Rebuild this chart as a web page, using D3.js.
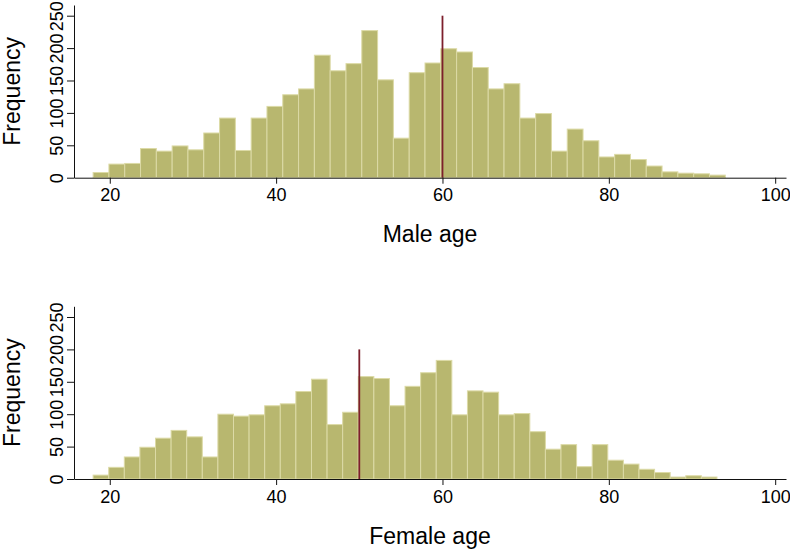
<!DOCTYPE html>
<html>
<head>
<meta charset="utf-8">
<script src="https://cdn.jsdelivr.net/npm/d3@7/dist/d3.min.js"></script>
<style>
  html, body { margin: 0; padding: 0; background: #ffffff; }
  svg { display: block; font-family: "Liberation Sans", Helvetica, Arial, sans-serif; }
</style>
</head>
<body>
<svg id="chart" width="790" height="551"></svg>
<script>
// ---- data ----
const maleCounts = [8, 21, 22, 45, 41, 49, 43, 69, 92, 42,
                    92, 110, 128, 137, 189, 165, 176, 227, 151, 61,
                    162, 177, 199, 194, 170, 137, 145, 92, 99, 41,
                    75, 57, 32, 36, 28, 18, 9, 7, 6, 4];
const maleRange = [18, 94];
const maleRef = 60;
const maleRefTop = 250;

const femaleCounts = [6, 18, 34, 49, 63, 75, 65, 34, 100, 97,
                      99, 113, 116, 135, 154, 84, 103, 158, 155, 113,
                      143, 164, 183, 99, 136, 134, 99, 101, 73, 46,
                      53, 19, 53, 29, 23, 15, 10, 3, 5, 3];
const femaleRange = [18, 93];
const femaleRef = 50;
const femaleRefTop = 200;

const xTicks = [20, 40, 60, 80, 100];
const yTicks = [0, 50, 100, 150, 200, 250];
const panelTitles = ["Male age", "Female age"];
const yTitle = "Frequency";

// ---- style / layout ----
const barFill = "#b8b76f";
const barStroke = "#dcdaa6";
const refColor = "#7d1f2c";
const xDomain = [15.7, 101.3];
const yMax = 266.5;
const left = 74, right = 786;
const panelTops = [5, 306.3];
const panelHeight = 172.7;

const svg = d3.select("#chart");
const x = d3.scaleLinear().domain(xDomain).range([left, right]);

const panels = [
  { counts: maleCounts, range: maleRange, ref: maleRef, refTop: maleRefTop, title: panelTitles[0] },
  { counts: femaleCounts, range: femaleRange, ref: femaleRef, refTop: femaleRefTop, title: panelTitles[1] }
];

panels.forEach((p, pi) => {
  const top = panelTops[pi];
  const bottom = top + panelHeight;
  const y = d3.scaleLinear().domain([0, yMax]).range([bottom, top]);
  const g = svg.append("g");
  const n = p.counts.length;
  const w = (p.range[1] - p.range[0]) / n;
  const bins = p.counts.map((c, i) => ({ x0: p.range[0] + i * w, x1: p.range[0] + (i + 1) * w, c }));

  g.selectAll("rect.bar").data(bins).enter().append("rect")
    .attr("class", "bar")
    .attr("x", d => x(d.x0))
    .attr("width", d => x(d.x1) - x(d.x0))
    .attr("y", d => y(d.c))
    .attr("height", d => y(0) - y(d.c))
    .attr("fill", barFill)
    .attr("stroke", barStroke)
    .attr("stroke-width", 1);

  g.append("line")
    .attr("x1", x(p.ref)).attr("x2", x(p.ref))
    .attr("y1", y(0)).attr("y2", y(p.refTop))
    .attr("stroke", refColor).attr("stroke-width", 1.8);

  const xAxis = g.append("g").attr("transform", `translate(0,${bottom})`)
    .call(d3.axisBottom(x).tickValues(xTicks).tickSize(6).tickSizeOuter(0).tickPadding(5));
  xAxis.selectAll("text").attr("font-size", 18).attr("fill", "#000")
    .attr("font-family", "Liberation Sans, Helvetica, Arial, sans-serif");
  xAxis.selectAll("line, path").attr("stroke", "#111");

  const yAxis = g.append("g").attr("transform", `translate(${left},0)`)
    .call(d3.axisLeft(y).tickValues(yTicks).tickSize(7).tickSizeOuter(0));
  yAxis.selectAll("text")
    .attr("transform", "rotate(-90)")
    .attr("x", 0).attr("y", -11).attr("dy", 0)
    .attr("text-anchor", "middle")
    .attr("font-size", 18).attr("fill", "#000")
    .attr("font-family", "Liberation Sans, Helvetica, Arial, sans-serif");
  yAxis.selectAll("line, path").attr("stroke", "#111");

  g.append("text")
    .attr("x", (left + right) / 2).attr("y", bottom + 64.5)
    .attr("text-anchor", "middle")
    .attr("font-size", 23)
    .attr("fill", "#000")
    .text(p.title);

  g.append("text")
    .attr("transform", `translate(20,${(top + bottom) / 2}) rotate(-90)`)
    .attr("text-anchor", "middle")
    .attr("font-size", 23)
    .attr("fill", "#000")
    .text(yTitle);
});
</script>
</body>
</html>
